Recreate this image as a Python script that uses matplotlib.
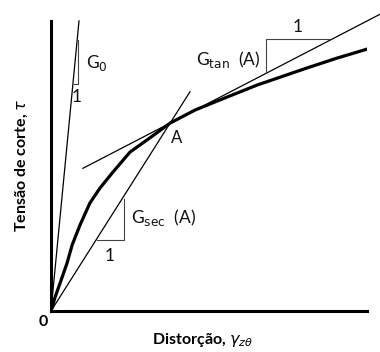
import numpy as np
import matplotlib
matplotlib.use("Agg")
import matplotlib.pyplot as plt

plt.rcParams["font.family"] = ["Lato", "DejaVu Sans"]
plt.rcParams["mathtext.fontset"] = "dejavusans"

# stress-strain curve (arbitrary units)
strain = [0, 0.13, 0.29, 0.51, 0.67, 0.92, 1.23, 1.55, 1.96, 2.5, 3.13, 3.77,
          4.56, 5.35, 6.52, 8.10, 9.05, 10.0]
stress = [0, 0.48, 0.97, 1.66, 2.28, 2.97, 3.72, 4.24, 4.79, 5.48, 5.97, 6.48,
          6.93, 7.28, 7.79, 8.38, 8.72, 9.03]

point_a = (3.77, 6.48)

# reference lines: (x start, x end) and slope through a point
g0_x = [0, 0.886]
g0_slope = 11.29
sec_x = [0, 4.40]
tan_x = [1.01, 10.41]
tan_slope = 0.565

# slope triangles (legs only)
g0_tri_x = [0.73, 0.87, 0.87]
g0_tri_y = [7.83, 7.83, 9.35]
sec_tri_x = [1.46, 2.31, 2.31]
sec_tri_y = [2.45, 2.45, 3.86]
tan_tri_x = [6.80, 6.80, 8.83]
tan_tri_y = [8.24, 9.38, 9.38]

fig = plt.figure(figsize=(3.8, 3.52), dpi=100)
ax = fig.add_axes([51 / 380, 41 / 352, 316 / 380, 290 / 352])
ax.set_xlim(0, 10)
ax.set_ylim(0, 10)

ax.plot(strain, stress, color="black", lw=2.3, solid_capstyle="round")

g0_y = [g0_slope * x for x in g0_x]
ax.plot(g0_x, g0_y, color="black", lw=0.9, clip_on=False)

sec_slope = point_a[1] / point_a[0]
ax.plot(sec_x, [sec_slope * x for x in sec_x], color="black", lw=0.9, clip_on=False)

tan_y = [point_a[1] + tan_slope * (x - point_a[0]) for x in tan_x]
ax.plot(tan_x, tan_y, color="black", lw=0.9, clip_on=False)

for tx, ty in [(g0_tri_x, g0_tri_y), (sec_tri_x, sec_tri_y), (tan_tri_x, tan_tri_y)]:
    ax.plot(tx, ty, color="#444444", lw=0.8, clip_on=False)

txt = dict(fontsize=12.5, color="#111111", va="center")
ax.text(1.11, 8.55, r"G$_0$", ha="left", **txt)
ax.text(0.82, 7.38, "1", ha="center", **txt)
ax.text(3.96, 5.97, "A", ha="center", fontsize=12, color="#111111", va="center")
ax.text(4.60, 8.66, r"G$_{\rm tan}$  (A)", ha="left", **txt)
ax.text(7.79, 9.79, "1", ha="center", **txt)
ax.text(2.53, 3.21, r"G$_{\rm sec}$  (A)", ha="left", **txt)
ax.text(1.84, 1.90, "1", ha="center", **txt)
ax.text(-0.25, -0.38, "0", ha="center", va="center", fontsize=11.5, fontweight="bold")

ax.text(0.478, -0.10, r"Distorção, $\gamma_{z\theta}$", transform=ax.transAxes,
        ha="center", va="center", fontsize=11.5, fontweight="bold")
ax.text(-0.092, 0.503, r"Tensão de corte, $\tau$", transform=ax.transAxes,
        ha="center", va="center", rotation=90, fontsize=11.5, fontweight="bold")

for side in ["top", "right"]:
    ax.spines[side].set_visible(False)
for side in ["left", "bottom"]:
    ax.spines[side].set_linewidth(2.2)
ax.set_xticks([])
ax.set_yticks([])
ax.patch.set_alpha(0)

fig.savefig("out.png", dpi=100)
